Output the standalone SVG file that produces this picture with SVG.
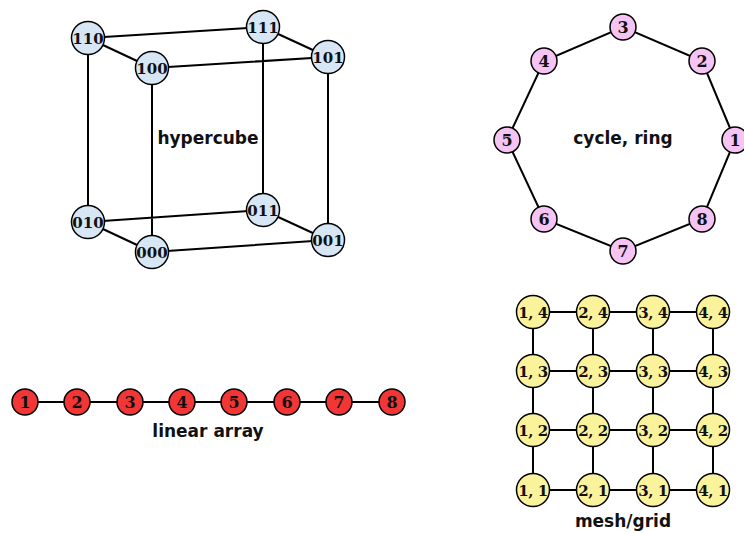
<svg xmlns="http://www.w3.org/2000/svg" width="744" height="533" viewBox="0 0 744 533">
  <style>
    .edge { stroke: #000; stroke-width: 2; fill: none; }
    .node circle { stroke: #000; stroke-width: 1.5; }
    .node text { font-family: "DejaVu Serif", "Liberation Serif", serif; font-weight: bold; font-size: 15px; text-anchor: middle; fill: #111; }
    .cube circle { fill: #d6e6f5; }
    .ring circle { fill: #f5c4f3; }
    .ring text, .line text { font-size: 16px; }
    .line circle { fill: #f23636; }
    .mesh circle { fill: #fbf29c; }
    .mesh text { letter-spacing: -0.5px; }
    .title { font-family: "DejaVu Sans", "Liberation Sans", sans-serif; font-weight: bold; font-size: 17px; text-anchor: middle; fill: #111; }
  </style>

  <!-- connectors -->
  <g id="connectors">
    <!-- hypercube -->
    <path class="edge" d="M88,38 L263,27 M88,38 L152,68 M152,68 L328,57 M263,27 L328,57
                          M88,38 L88,222 M152,68 L152,252 M263,27 L263,210 M328,57 L328,240
                          M88,222 L263,210 M88,222 L152,252 M152,252 L328,240 M263,210 L328,240"/>
    <!-- ring -->
    <path class="edge" d="M735,140 L702,61 L623,27 L544,61 L507,140 L544,219 L623,251 L702,219 Z"/>
    <!-- linear array -->
    <path class="edge" d="M25,402 L392,402"/>
    <!-- mesh -->
    <path class="edge" d="M533,312 L713,312 M533,371 L713,371 M533,430 L713,430 M533,490 L713,490
                          M533,312 L533,490 M593,312 L593,490 M653,312 L653,490 M713,312 L713,490"/>
  </g>

  <!-- hypercube nodes -->
  <g class="cube">
    <g id="n110" class="node"><circle cx="88" cy="38" r="16.5"/><text x="88" y="43.5">110</text></g>
    <g id="n111" class="node"><circle cx="263" cy="27" r="16.5"/><text x="263" y="32.5">111</text></g>
    <g id="n100" class="node"><circle cx="152" cy="68" r="16.5"/><text x="152" y="73.5">100</text></g>
    <g id="n101" class="node"><circle cx="328" cy="57" r="16.5"/><text x="328" y="62.5">101</text></g>
    <g id="n010" class="node"><circle cx="88" cy="222" r="16.5"/><text x="88" y="227.5">010</text></g>
    <g id="n011" class="node"><circle cx="263" cy="210" r="16.5"/><text x="263" y="215.5">011</text></g>
    <g id="n000" class="node"><circle cx="152" cy="252" r="16.5"/><text x="152" y="257.5">000</text></g>
    <g id="n001" class="node"><circle cx="328" cy="240" r="16.5"/><text x="328" y="245.5">001</text></g>
  </g>
  <text class="title" x="208" y="144">hypercube</text>

  <!-- ring nodes -->
  <g class="ring">
    <g id="r1" class="node"><circle cx="735" cy="140" r="13"/><text x="735" y="146">1</text></g>
    <g id="r2" class="node"><circle cx="702" cy="61" r="13"/><text x="702" y="67">2</text></g>
    <g id="r3" class="node"><circle cx="623" cy="27" r="13"/><text x="623" y="33">3</text></g>
    <g id="r4" class="node"><circle cx="544" cy="61" r="13"/><text x="544" y="67">4</text></g>
    <g id="r5" class="node"><circle cx="507" cy="140" r="13"/><text x="507" y="146">5</text></g>
    <g id="r6" class="node"><circle cx="544" cy="219" r="13"/><text x="544" y="225">6</text></g>
    <g id="r7" class="node"><circle cx="623" cy="251" r="13"/><text x="623" y="257">7</text></g>
    <g id="r8" class="node"><circle cx="702" cy="219" r="13"/><text x="702" y="225">8</text></g>
  </g>
  <text class="title" x="623" y="144">cycle, ring</text>

  <!-- linear array nodes -->
  <g class="line">
    <g id="a1" class="node"><circle cx="25" cy="402" r="13"/><text x="25" y="408">1</text></g>
    <g id="a2" class="node"><circle cx="77" cy="402" r="13"/><text x="77" y="408">2</text></g>
    <g id="a3" class="node"><circle cx="130" cy="402" r="13"/><text x="130" y="408">3</text></g>
    <g id="a4" class="node"><circle cx="182" cy="402" r="13"/><text x="182" y="408">4</text></g>
    <g id="a5" class="node"><circle cx="234" cy="402" r="13"/><text x="234" y="408">5</text></g>
    <g id="a6" class="node"><circle cx="287" cy="402" r="13"/><text x="287" y="408">6</text></g>
    <g id="a7" class="node"><circle cx="339" cy="402" r="13"/><text x="339" y="408">7</text></g>
    <g id="a8" class="node"><circle cx="392" cy="402" r="13"/><text x="392" y="408">8</text></g>
  </g>
  <text class="title" x="208" y="437">linear array</text>

  <!-- mesh nodes -->
  <g class="mesh">
    <g id="m14" class="node"><circle cx="533" cy="312" r="16.5"/><text x="533" y="317.5">1, 4</text></g>
    <g id="m24" class="node"><circle cx="593" cy="312" r="16.5"/><text x="593" y="317.5">2, 4</text></g>
    <g id="m34" class="node"><circle cx="653" cy="312" r="16.5"/><text x="653" y="317.5">3, 4</text></g>
    <g id="m44" class="node"><circle cx="713" cy="312" r="16.5"/><text x="713" y="317.5">4, 4</text></g>
    <g id="m13" class="node"><circle cx="533" cy="371" r="16.5"/><text x="533" y="376.5">1, 3</text></g>
    <g id="m23" class="node"><circle cx="593" cy="371" r="16.5"/><text x="593" y="376.5">2, 3</text></g>
    <g id="m33" class="node"><circle cx="653" cy="371" r="16.5"/><text x="653" y="376.5">3, 3</text></g>
    <g id="m43" class="node"><circle cx="713" cy="371" r="16.5"/><text x="713" y="376.5">4, 3</text></g>
    <g id="m12" class="node"><circle cx="533" cy="430" r="16.5"/><text x="533" y="435.5">1, 2</text></g>
    <g id="m22" class="node"><circle cx="593" cy="430" r="16.5"/><text x="593" y="435.5">2, 2</text></g>
    <g id="m32" class="node"><circle cx="653" cy="430" r="16.5"/><text x="653" y="435.5">3, 2</text></g>
    <g id="m42" class="node"><circle cx="713" cy="430" r="16.5"/><text x="713" y="435.5">4, 2</text></g>
    <g id="m11" class="node"><circle cx="533" cy="490" r="16.5"/><text x="533" y="495.5">1, 1</text></g>
    <g id="m21" class="node"><circle cx="593" cy="490" r="16.5"/><text x="593" y="495.5">2, 1</text></g>
    <g id="m31" class="node"><circle cx="653" cy="490" r="16.5"/><text x="653" y="495.5">3, 1</text></g>
    <g id="m41" class="node"><circle cx="713" cy="490" r="16.5"/><text x="713" y="495.5">4, 1</text></g>
  </g>
  <text class="title" x="623" y="527">mesh/grid</text>
</svg>
